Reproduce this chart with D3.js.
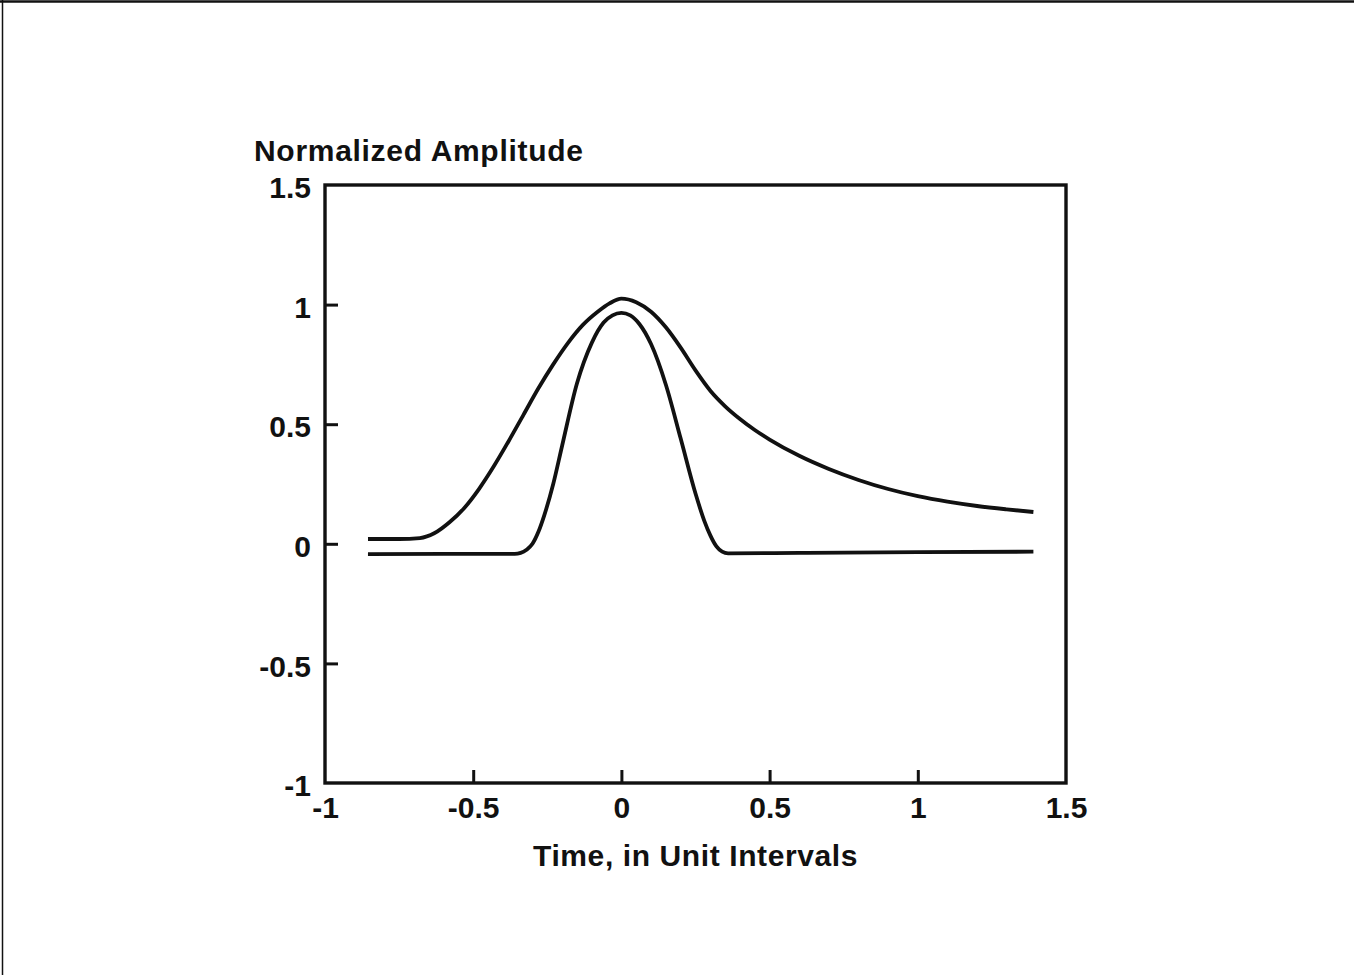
<!DOCTYPE html>
<html lang="en">
	<head>
		<meta charset="utf-8">
		<title>D3: Normalized Amplitude</title>
		<script type="text/javascript" src="https://cdn.jsdelivr.net/npm/d3@7"></script>
		<style type="text/css">

		body {
			margin: 0;
			background: #fff;
		}

		text {
			font-family: "Liberation Sans", Arial, Helvetica, sans-serif;
			fill: #111;
		}

		.axis path, .axis line {
			stroke: #111;
		}

		.curve {
			fill: none;
			stroke: #111;
			stroke-width: 3.8;
			stroke-linejoin: round;
			stroke-linecap: butt;
		}

		</style>
	</head>
	<body>

		<script type="text/javascript">

		//Width and height
		var w = 1354;
		var h = 975;

		//Plot box edges
		var left = 325, right = 1066, top_ = 185, bottom = 783;

		//Wide pulse (upper curve)
		var wideTime = [-0.855, -0.75, -0.68, -0.63, -0.58, -0.53, -0.48, -0.43, -0.38, -0.33, -0.28, -0.23, -0.18, -0.13, -0.08, -0.04, 0.0, 0.05, 0.10, 0.15, 0.20, 0.25, 0.30, 0.35, 0.40, 0.45, 0.50, 0.60, 0.70, 0.80, 0.90, 1.00, 1.10, 1.20, 1.30, 1.39];
		var wideAmp  = [0.02, 0.02, 0.024, 0.045, 0.09, 0.15, 0.23, 0.325, 0.43, 0.54, 0.65, 0.75, 0.84, 0.915, 0.97, 1.005, 1.025, 1.01, 0.97, 0.905, 0.82, 0.725, 0.64, 0.575, 0.522, 0.476, 0.436, 0.368, 0.313, 0.267, 0.229, 0.199, 0.176, 0.158, 0.144, 0.133];

		//Narrow pulse (lower curve)
		var narrowTime = [-0.855, -0.6, -0.36, -0.34, -0.32, -0.30, -0.28, -0.26, -0.23, -0.20, -0.15, -0.10, -0.06, -0.03, 0.0, 0.03, 0.06, 0.10, 0.15, 0.20, 0.25, 0.28, 0.30, 0.32, 0.34, 0.36, 0.6, 1.0, 1.39];
		var narrowAmp  = [-0.043, -0.042, -0.042, -0.038, -0.025, 0.0, 0.05, 0.12, 0.25, 0.41, 0.67, 0.84, 0.925, 0.955, 0.965, 0.955, 0.92, 0.835, 0.665, 0.44, 0.21, 0.095, 0.035, -0.01, -0.033, -0.04, -0.038, -0.035, -0.033];

		//Tick values
		var xTicks = [-1, -0.5, 0, 0.5, 1, 1.5];
		var yTicks = [-1, -0.5, 0, 0.5, 1, 1.5];

		var svg = d3.select("body")
					.append("svg")
					.attr("width", w)
					.attr("height", h);

		//Page frame (top and left edges of the scan)
		svg.append("line")
			.attr("x1", 0).attr("y1", 1.5).attr("x2", w).attr("y2", 1.5)
			.attr("stroke", "#111").attr("stroke-width", 2.5);
		svg.append("line")
			.attr("x1", 2.5).attr("y1", 0).attr("x2", 2.5).attr("y2", h)
			.attr("stroke", "#111").attr("stroke-width", 1.5);

		//Scales
		var xScale = d3.scaleLinear()
						.domain([-1, 1.5])
						.range([left, right]);

		var yScale = d3.scaleLinear()
						.domain([-1, 1.5])
						.range([bottom, top_]);

		//Axes, ticks pointing inwards
		var xAxis = d3.axisBottom(xScale)
						.tickValues(xTicks)
						.tickSizeInner(-13)
						.tickSizeOuter(0)
						.tickPadding(14);

		var yAxis = d3.axisLeft(yScale)
						.tickValues(yTicks)
						.tickSizeInner(-13)
						.tickSizeOuter(0)
						.tickPadding(14);

		var gx = svg.append("g")
			.attr("class", "axis")
			.attr("transform", "translate(0," + bottom + ")")
			.call(xAxis);

		var gy = svg.append("g")
			.attr("class", "axis")
			.attr("transform", "translate(" + left + ",0)")
			.call(yAxis);

		//No short ticks on the corners (they sit on the frame)
		gx.selectAll(".tick line").attr("stroke-width", 3)
			.filter(function(d) { return d === -1 || d === 1.5; }).remove();
		gy.selectAll(".tick line").attr("stroke-width", 3)
			.filter(function(d) { return d === -1 || d === 1.5; }).remove();
		gx.select(".domain").remove();
		gy.select(".domain").remove();

		//Plain hyphen for minus, like the original
		svg.selectAll(".axis text")
			.attr("font-size", 30)
			.attr("font-weight", "bold")
			.attr("font-family", "Liberation Sans, Arial, sans-serif")
			.text(function(d) { return String(d); });

		gy.selectAll(".tick text").attr("dy", "0.42em");

		//Plot box
		svg.append("rect")
			.attr("x", left)
			.attr("y", top_)
			.attr("width", right - left)
			.attr("height", bottom - top_)
			.attr("fill", "none")
			.attr("stroke", "#111")
			.attr("stroke-width", 3.4);

		//Line generator
		var line = d3.line()
					.x(function(d) { return xScale(d[0]); })
					.y(function(d) { return yScale(d[1]); })
					.curve(d3.curveMonotoneX);

		var wide = d3.zip(wideTime, wideAmp);
		var narrow = d3.zip(narrowTime, narrowAmp);

		svg.selectAll("path.curve")
			.data([wide, narrow])
			.enter()
			.append("path")
			.attr("class", "curve")
			.attr("d", line);

		//Axis titles
		svg.append("text")
			.attr("x", 254)
			.attr("y", 161)
			.attr("font-size", 30)
			.attr("font-weight", "bold")
			.attr("letter-spacing", 0.7)
			.text("Normalized Amplitude");

		svg.append("text")
			.attr("x", (left + right) / 2)
			.attr("y", 866)
			.attr("text-anchor", "middle")
			.attr("font-size", 30)
			.attr("font-weight", "bold")
			.attr("letter-spacing", 0.6)
			.text("Time, in Unit Intervals");

		</script>
	</body>
</html>
